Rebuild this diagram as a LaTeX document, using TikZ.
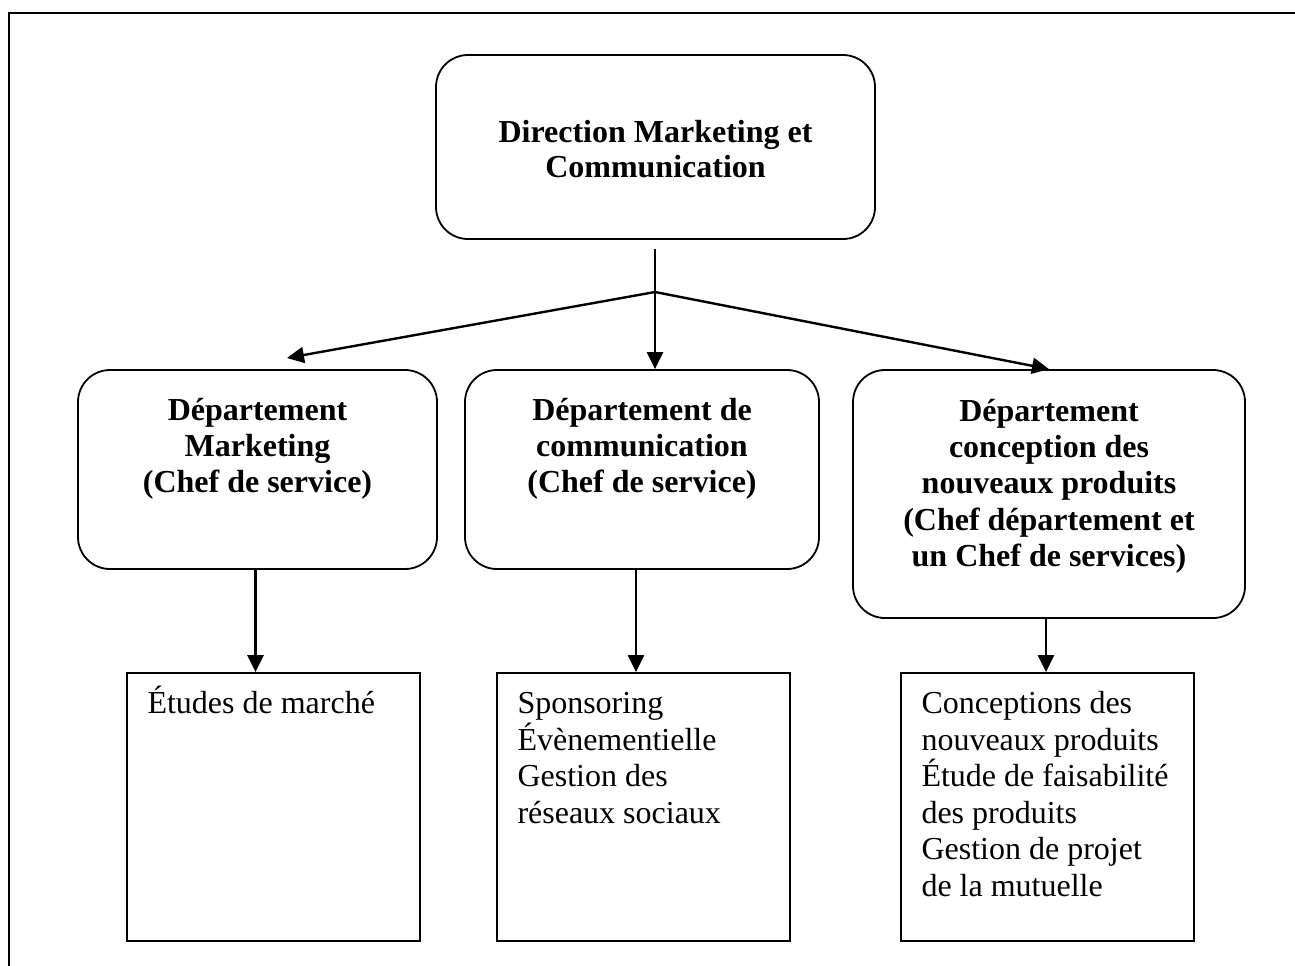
\documentclass[tikz,border=0pt]{standalone}
\usepackage{fontspec}
\setmainfont{Liberation Serif}
\usetikzlibrary{arrows.meta}
\newcommand{\topstrut}{\rule{0pt}{15pt}}
\tikzset{
	orgbox/.style={draw, line width=0.9pt, rounded corners=16pt, inner sep=0pt},
	taskbox/.style={draw, line width=0.9pt, inner sep=0pt, minimum width=146.5pt, minimum height=134pt},
	headtext/.style={inner sep=0pt, anchor=north, align=center, font=\fontsize{16}{18.1}\selectfont\bfseries},
	tasktext/.style={inner sep=0pt, anchor=north west, align=left, font=\fontsize{16}{18.3}\selectfont},
	link/.style={line width=1.2pt, -{Triangle[length=8.5pt,width=8pt]}}
}

\begin{document}
\begin{tikzpicture}[x=0.5pt,y=-0.5pt]
	\useasboundingbox (0,0) rectangle (1295,965);
	% cadre
	\draw[line width=1pt] (1300,13) -- (9,13) -- (9,970);

	% direction
	\node[orgbox, minimum width=219.5pt, minimum height=92pt] (dir) at (655.5,147) {};
	\node[headtext, font=\fontsize{16}{17.6}\selectfont\bfseries] (dir-txt) at ([yshift=-29pt]dir.north) {\topstrut Direction Marketing et\\Communication};

	% departements
	\node[orgbox, minimum width=179.5pt, minimum height=99.5pt] (mkt) at (257.5,469.5) {};
	\node[orgbox, minimum width=177pt, minimum height=99.5pt] (comm) at (642,469.5) {};
	\node[orgbox, minimum width=196pt, minimum height=124pt] (conc) at (1049,494) {};
	\node[headtext] (mkt-txt) at ([yshift=-10.5pt]mkt.north) {\topstrut D\'epartement\\Marketing\\(Chef de service)};
	\node[headtext] (comm-txt) at ([yshift=-10.5pt]comm.north) {\topstrut D\'epartement de\\communication\\(Chef de service)};
	\node[headtext] (conc-txt) at ([yshift=-11pt]conc.north) {\topstrut D\'epartement\\conception des\\nouveaux produits\\(Chef d\'epartement et\\un Chef de services)};

	% taches
	\node[taskbox] (etu) at (273.5,807) {};
	\node[taskbox] (spo) at (643.5,807) {};
	\node[taskbox] (prod) at (1047.5,807) {};
	\node[tasktext] (etu-txt) at ([xshift=10.5pt,yshift=-5.5pt]etu.north west) {\topstrut \'Etudes de march\'e};
	\node[tasktext] (spo-txt) at ([xshift=10.5pt,yshift=-5.5pt]spo.north west) {\topstrut Sponsoring\\\'Ev\`enementielle\\Gestion des\\r\'eseaux sociaux};
	\node[tasktext] (prod-txt) at ([xshift=10.5pt,yshift=-5.5pt]prod.north west) {\topstrut Conceptions des\\nouveaux produits\\\'Etude de faisabilit\'e\\des produits\\Gestion de projet\\de la mutuelle};

	\coordinate (split) at (655,292);
	\coordinate (stem) at (655,249);
	\coordinate (ltip) at (287,358);

	\draw[line width=1.2pt] (stem) -- (split);
	\draw[link] (split) -- (ltip);
	\draw[link] (split) -- (split |- comm.north);
	\draw[link] (split) -- (conc.north);
	\draw[link] ([xshift=-1pt]mkt.south) -- ([xshift=-1pt]mkt.south |- etu.north);
	\draw[link] ([xshift=-3pt]comm.south) -- ([xshift=-3pt]comm.south |- spo.north);
	\draw[link] ([xshift=-1.5pt]conc.south) -- ([xshift=-1.5pt]conc.south |- prod.north);
\end{tikzpicture}
\end{document}
